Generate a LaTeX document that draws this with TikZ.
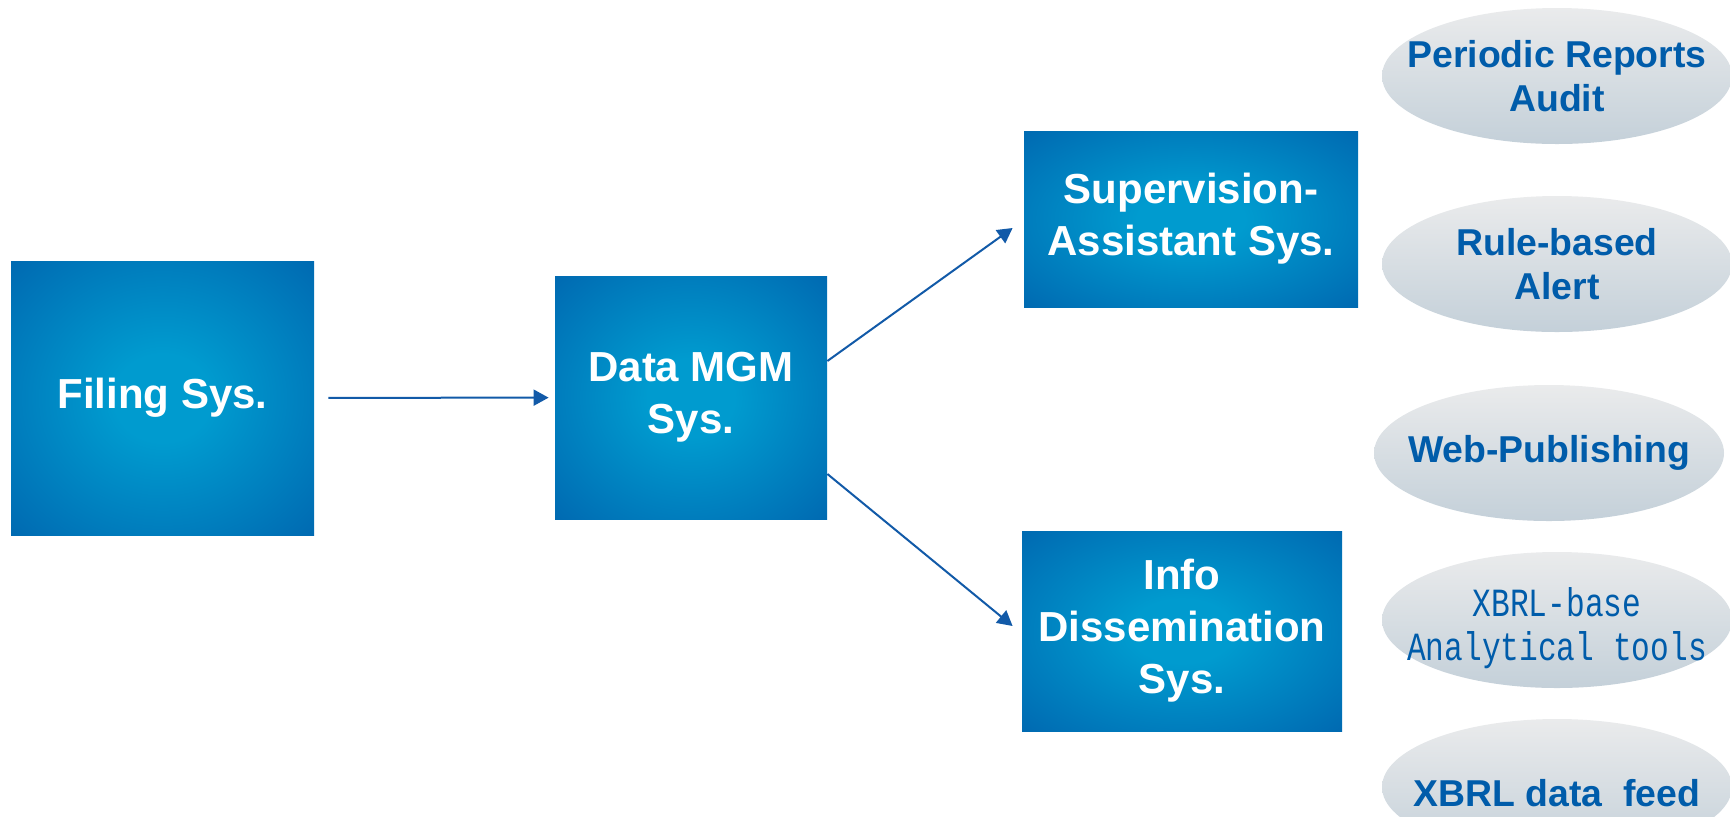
\documentclass[tikz,border=0pt]{standalone}
\usepackage{fontspec}
\setmainfont{Liberation Sans}
\newfontfamily\monof[FakeStretch=0.78]{Liberation Mono}
\usetikzlibrary{arrows.meta,calc,shapes.geometric}
\definecolor{boxin}{RGB}{0,155,207}
\definecolor{boxout}{RGB}{0,90,168}
\definecolor{elltop}{RGB}{234,235,236}
\definecolor{ellbot}{RGB}{196,208,217}
\definecolor{txtblue}{RGB}{0,92,170}
\definecolor{arrblue}{RGB}{18,90,168}
\pgfdeclareradialshading{boxshade}{\pgfpoint{0bp}{0bp}}{color(0bp)=(boxin); color(8bp)=(boxin); color(44bp)=(boxout); color(50bp)=(boxout)}
\tikzset{
  sysbox/.style={rectangle, shading=boxshade, text=white, inner sep=0pt, align=center,
    font=\bfseries\fontsize{21}{26}\selectfont},
  ellnode/.style={ellipse, top color=elltop, bottom color=ellbot, inner sep=0pt,
    minimum width=175pt, minimum height=68pt},
  elltext/.style={align=center, text=txtblue, inner sep=0pt,
    font=\bfseries\fontsize{18.7}{22}\selectfont},
  monotext/.style={align=center, text=txtblue, inner sep=0pt,
    font=\monof\fontsize{20}{22}\selectfont},
  arr/.style={draw=arrblue, line width=1pt, -{Triangle[length=7.5pt,width=8pt]}}
}
\begin{document}
\begin{tikzpicture}[x=0.5pt,y=-0.5pt]
\useasboundingbox (0,0) rectangle (1730,816);
\clip (0,0) rectangle (1730,816);
\node[sysbox, minimum width=151.5pt, minimum height=137pt] (filing) at (162.5,398) {Filing Sys.};
\node[sysbox, minimum width=136pt, minimum height=121.5pt] (data) at (691,397.5) {Data MGM\\Sys.};
\node[sysbox, minimum width=167pt, minimum height=88pt] (sup) at (1191,219) {Supervision-\\Assistant Sys.};
\node[sysbox, minimum width=160pt, minimum height=100pt] (info) at (1182,631) {Info\\Dissemination\\Sys.};

\node[ellnode, label={[elltext]center:Periodic Reports\\Audit}] (per) at (1557,76) {};
\node[ellnode, label={[elltext]center:Rule-based\\Alert}] (rule) at (1557,264) {};
\node[ellnode, label={[elltext]center:Web-Publishing}] (web) at (1549,453) {};
\node[ellnode, label={[monotext, yshift=-4pt]center:XBRL-base\\Analytical tools}] (xbase) at (1557,620) {};
\node[ellnode, label={[elltext, yshift=-3pt]center:XBRL data~ feed}] (feed) at (1557,787) {};

\draw[arr, shorten <=7pt, shorten >=3pt] (filing) -- (data);
\draw[arr] ([yshift=18.25pt]data.east) -- ([xshift=-5.5pt,yshift=-4.5pt]sup.west);
\draw[arr] ([yshift=-38.25pt]data.east) -- ([xshift=-4.5pt,yshift=2.5pt]info.west);
\end{tikzpicture}
\end{document}
